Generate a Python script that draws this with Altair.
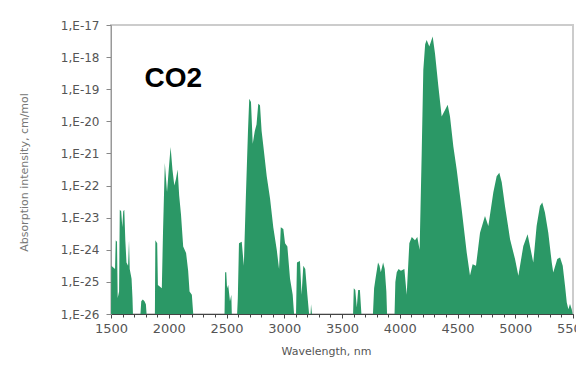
import altair as alt
import pandas as pd

# Spectrum: wavelength (nm) and log10 of absorption intensity (cm/mol)
wavelength_nm = [
    1500, 1503, 1535, 1541, 1552, 1558, 1570, 1576, 1588, 1598, 1606, 1615, 1624, 1634, 1648, 1656, 1662, 1678, 1686, 1690,
    1755, 1762, 1775, 1790, 1802, 1808,
    1880, 1884, 1900, 1906, 1940, 1950, 1966, 1985, 2000, 2016, 2032, 2048, 2062, 2077, 2090, 2106, 2125, 2150, 2168, 2180, 2200, 2212,
    2483, 2488, 2498, 2505, 2515, 2530, 2542, 2546,
    2592, 2598, 2608, 2632, 2650, 2668, 2686, 2697, 2712, 2727, 2745, 2760, 2775, 2790, 2804, 2820, 2848, 2877, 2905, 2935, 2955, 2970, 2992, 3007, 3027, 3050, 3073, 3085,
    3102, 3110, 3136, 3150, 3165, 3182, 3200, 3215, 3228, 3232, 3240,
    3596, 3602, 3615, 3628, 3640, 3655, 3668,
    3768, 3778, 3790, 3812, 3825, 3836, 3856, 3870, 3884, 3890,
    3955, 3962, 3974, 3990, 4010, 4040, 4060, 4083, 4104, 4132, 4152, 4172, 4190, 4204, 4220, 4233, 4256, 4272, 4285, 4305,
    4334, 4363, 4392, 4415, 4435, 4464, 4493, 4536, 4580, 4608, 4631, 4660, 4695, 4738, 4767, 4810, 4839, 4862, 4883, 4911,
    4955, 4998, 5027, 5070, 5107, 5133, 5156, 5185, 5214, 5234, 5257, 5286, 5316, 5329, 5364, 5388, 5411, 5431, 5446, 5460,
    5474, 5489, 5497, 5500,
]
log10_intensity = [
    -26, -24.5, -24.6, -23.7, -23.75, -25.5, -25.3, -22.75, -22.8, -23.3, -22.8, -22.75, -23.7, -24.4, -24.5, -23.7, -24.6, -24.9, -25.5, -26,
    -26, -25.6, -25.55, -25.6, -25.7, -26,
    -26, -23.7, -23.8, -25.1, -25.2, -23.5, -21.3, -22.2, -21.5, -20.8, -21.5, -22.0, -21.8, -21.5, -22.3, -22.9, -23.9, -24.1, -24.65, -25.3, -25.4, -26,
    -26, -24.7, -24.7, -25.2, -25.1, -25.6, -25.4, -26,
    -26, -25.5, -23.8, -23.75, -24.5, -22.3, -20.3, -19.3, -19.4, -20.7, -20.3, -20.1, -19.45, -19.5, -20.3, -20.8, -21.7, -22.4, -23.3, -24.0, -24.6, -23.3, -23.35, -23.8, -23.9, -24.9, -25.4, -26,
    -26, -24.4, -24.35, -25.4, -24.5, -24.6, -25.4, -26, -26, -25.7, -26,
    -26, -25.2, -25.25, -25.8, -25.25, -25.25, -26,
    -26, -25.2, -24.9, -24.4, -24.5, -24.7, -24.4, -24.6, -25.3, -26,
    -26, -25.0, -24.7, -24.6, -24.65, -24.6, -25.4, -23.8, -23.6, -23.7, -23.6, -24.0, -21.0, -18.4, -17.6, -17.47, -17.67, -17.5, -17.36, -17.88,
    -18.9, -19.85, -19.65, -19.48, -19.85, -20.78, -21.5, -22.74, -24.09, -24.8, -24.45, -24.5, -23.47, -22.95, -23.26, -22.22, -21.71, -21.6, -21.9, -22.64,
    -23.67, -24.29, -24.81, -23.88, -23.52, -23.98, -24.4, -23.26, -22.64, -22.53, -22.84, -23.47, -24.4, -24.71, -24.29, -24.24, -24.5, -25.12, -25.64, -25.85,
    -25.69, -25.85, -26, -26,
]

x_label_values = [1500, 2000, 2500, 3000, 3500, 4000, 4500, 5000, 5500]
x_minor_tick_values = [1500, 1600, 1700, 1800, 1900, 2000, 2100, 2200, 2300, 2400, 2500, 2600, 2700, 2800, 2900,
                       3000, 3100, 3200, 3300, 3400, 3500, 3600, 3700, 3800, 3900, 4000, 4100, 4200, 4300, 4400,
                       4500, 4600, 4700, 4800, 4900, 5000, 5100, 5200, 5300, 5400, 5500]
y_tick_values = [1e-17, 1e-18, 1e-19, 1e-20, 1e-21, 1e-22, 1e-23, 1e-24, 1e-25, 1e-26]
y_tick_labels = ["1,E-17", "1,E-18", "1,E-19", "1,E-20", "1,E-21", "1,E-22", "1,E-23", "1,E-24", "1,E-25", "1,E-26"]

annotation_text = ["CO2"]
annotation_wavelength = [1790]
annotation_log10 = [-18.93]

df = pd.DataFrame({"wavelength": wavelength_nm,
                   "intensity": [10 ** v for v in log10_intensity]})
ann = pd.DataFrame({"wavelength": annotation_wavelength,
                    "intensity": [10 ** v for v in annotation_log10],
                    "text": annotation_text})

y_label_expr = ("[" + ",".join("'" + s + "'" for s in y_tick_labels) + "]"
                "[-17 - round(log(datum.value) / LN10)]")

x_scale = alt.Scale(domain=[1500, 5500], nice=False, zero=False)
y_scale = alt.Scale(type="log", domain=[1e-26, 1e-17], nice=False)

y_axis = alt.Axis(title="Absorption intensity, cm/mol", values=y_tick_values,
                  labelExpr=y_label_expr, labelOverlap=False,
                  domainColor="#999", tickColor="#888", tickSize=5,
                  labelPadding=7, labelFontSize=12, labelColor="#555",
                  titleFontSize=11, titleColor="#777", titleFontWeight="normal",
                  titleX=-82, titleY=147, grid=False)

area = alt.Chart(df).mark_area(color="#2b9866", interpolate="linear").encode(
    x=alt.X("wavelength:Q", scale=x_scale,
            axis=alt.Axis(title="Wavelength, nm", orient="bottom", values=x_label_values, format="d",
                          labelOverlap=False, labelFlush=False, labelBound=False,
                          domainColor="#444", tickColor="#444", tickSize=4,
                          labelPadding=4, labelFontSize=13, labelColor="#555",
                          titleFontSize=11, titleColor="#555", titleFontWeight="normal",
                          titleBaseline="alphabetic", titleAlign="center", titleX=215, titleY=40,
                          grid=False)),
    y=alt.Y("intensity:Q", scale=y_scale, axis=y_axis),
    y2=alt.datum(1e-26),
)

text = alt.Chart(ann).mark_text(align="left", baseline="alphabetic", font="Liberation Sans",
                                fontSize=28, fontWeight="bold", color="black").encode(
    x=alt.X("wavelength:Q", scale=x_scale,
            axis=alt.Axis(orient="bottom", values=x_minor_tick_values, labels=False, domain=False,
                          title=None, tickColor="#444", tickSize=3, grid=False)),
    y=alt.Y("intensity:Q", scale=y_scale, axis=y_axis),
    text="text:N",
)

chart = alt.layer(area, text).resolve_axis(x="independent").properties(
    width=462, height=289,
    padding={"left": 103, "top": 17, "right": 3, "bottom": 43},
    autosize=alt.AutoSizeParams(type="none"),
    background="white",
).configure_view(stroke="#cccccc", strokeWidth=2).configure_axis(
    labelFont="DejaVu Sans", titleFont="DejaVu Sans"
)

chart.save("out.html", embed_options={"renderer": "svg", "actions": False})
